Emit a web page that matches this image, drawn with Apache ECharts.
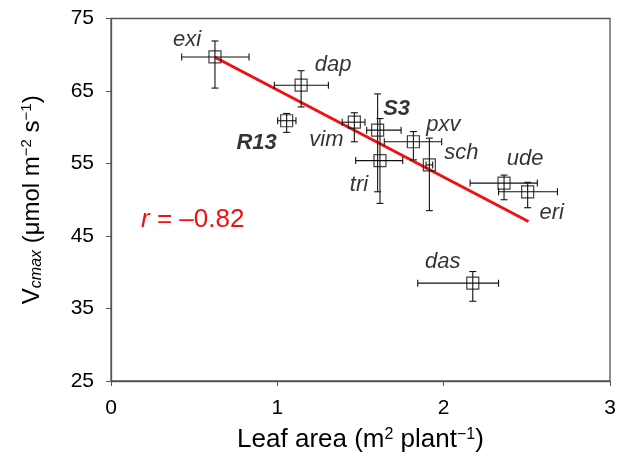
<!DOCTYPE html>
<html>
<head>
<meta charset="utf-8">
<script src="https://cdn.jsdelivr.net/npm/echarts@6/dist/echarts.min.js"></script>
<style>
  html, body { margin: 0; padding: 0; background: #fff; }
  #chart { width: 627px; height: 463px; }
</style>
</head>
<body>
<div id="chart"></div>
<script>
const names = ['exi', 'dap', 'R13', 'vim', 'S3', 'tri', 'pxv', 'sch', 'ude', 'eri', 'das'];
const leafArea = [0.625, 1.143, 1.056, 1.463, 1.603, 1.617, 1.818, 1.914, 2.363, 2.505, 2.175];
const vcmax = [69.7, 65.8, 60.9, 60.7, 59.6, 55.4, 58.0, 54.8, 52.3, 51.1, 38.5];
const leafAreaLow = [0.425, 0.982, 1.002, 1.39, 1.537, 1.471, 1.643, 1.894, 2.159, 2.33, 1.844];
const leafAreaHigh = [0.83, 1.307, 1.112, 1.527, 1.744, 1.754, 1.988, 1.934, 2.563, 2.684, 2.33];
const vcmaxLow = [65.4, 62.8, 59.3, 58.0, 51.1, 49.5, 55.5, 48.5, 50.0, 48.9, 36.0];
const vcmaxHigh = [71.9, 67.8, 61.9, 62.0, 64.6, 61.2, 59.4, 58.5, 53.4, 52.4, 40.1];
const boldNames = ['R13', 'S3'];

// regression line as drawn
const fitRange = [0.625, 2.51];
const fitSlope = -12.02;
const fitIntercept = 77.17;
const rValue = '\u20130.82';

const xTicks = [0, 1, 2, 3];
const yTicks = [25, 35, 45, 55, 65, 75];

// where each species name sits relative to its point (px)
const labelOffsets = {
  exi: [-28, -17], dap: [32, -20], R13: [-30, 22], vim: [-28, 18], S3: [19, -21],
  tri: [-21, 24], pxv: [30, -17], sch: [32, -12], ude: [21, -24], eri: [24, 21], das: [-30, -21]
};

const FONT = 'Liberation Sans, Arial, sans-serif';

const chart = echarts.init(document.getElementById('chart'));

const errData = names.map((n, i) => [leafArea[i], vcmax[i], leafAreaLow[i], leafAreaHigh[i], vcmaxLow[i], vcmaxHigh[i]]);

const pointData = names.map((n, i) => ({
  name: n,
  value: [leafArea[i], vcmax[i]],
  label: {
    show: true,
    formatter: n,
    position: 'inside',
    offset: labelOffsets[n],
    fontStyle: 'italic',
    fontWeight: boldNames.includes(n) ? 'bold' : 'normal',
    fontSize: 22,
    fontFamily: FONT,
    color: '#000'
  }
}));

const fitData = fitRange.map((x) => [x, fitIntercept + fitSlope * x]);

function renderErr(params, api) {
  const c = api.coord([api.value(0), api.value(1)]);
  const xl = api.coord([api.value(2), api.value(1)]);
  const xh = api.coord([api.value(3), api.value(1)]);
  const yl = api.coord([api.value(0), api.value(4)]);
  const yh = api.coord([api.value(0), api.value(5)]);
  const cap = 3.5;
  const style = { stroke: '#111', lineWidth: 1.1 };
  const line = (x1, y1, x2, y2) => ({ type: 'line', shape: { x1, y1, x2, y2 }, style });
  return {
    type: 'group',
    children: [
      line(xl[0], c[1], xh[0], c[1]),
      line(xl[0], c[1] - cap, xl[0], c[1] + cap),
      line(xh[0], c[1] - cap, xh[0], c[1] + cap),
      line(c[0], yl[1], c[0], yh[1]),
      line(c[0] - cap, yl[1], c[0] + cap, yl[1]),
      line(c[0] - cap, yh[1], c[0] + cap, yh[1])
    ]
  };
}

const option = {
  animation: false,
  backgroundColor: '#fff',
  grid: {
    left: 111,
    right: 17,
    top: 18.5,
    bottom: 82,
    show: true,
    borderColor: '#555',
    borderWidth: 1.3
  },
  xAxis: {
    type: 'value',
    min: xTicks[0],
    max: xTicks[xTicks.length - 1],
    interval: 1,
    name: 'Leaf area (m{sup|2} plant{sup|\u22121})',
    nameLocation: 'middle',
    nameGap: 46,
    nameTextStyle: {
      fontSize: 26,
      fontFamily: FONT,
      color: '#000',
      rich: {
        sup: { fontSize: 16, fontFamily: FONT, color: '#000', verticalAlign: 'top', lineHeight: 26 }
      }
    },
    axisLine: { show: true, lineStyle: { color: '#555', width: 1.3 } },
    axisTick: { show: true, inside: false, length: 5, lineStyle: { color: '#555' } },
    axisLabel: { fontSize: 21, fontFamily: FONT, color: '#000', margin: 17 },
    splitLine: { show: false }
  },
  yAxis: {
    type: 'value',
    min: yTicks[0],
    max: yTicks[yTicks.length - 1],
    interval: 10,
    name: 'V{sub|cmax} (\u03bcmol m{sup|\u22122} s{sup|\u22121})',
    nameLocation: 'middle',
    nameRotate: 90,
    nameGap: 66,
    nameTextStyle: {
      fontSize: 24,
      fontFamily: FONT,
      color: '#000',
      rich: {
        sub: { fontSize: 16, fontStyle: 'italic', fontFamily: FONT, color: '#000', verticalAlign: 'bottom', lineHeight: 26 },
        sup: { fontSize: 15, fontFamily: FONT, color: '#000', verticalAlign: 'top', lineHeight: 26 }
      }
    },
    axisLine: { show: true, lineStyle: { color: '#555', width: 1.3 } },
    axisTick: { show: true, inside: false, length: 5, lineStyle: { color: '#555' } },
    axisLabel: { fontSize: 21, fontFamily: FONT, color: '#000', margin: 17 },
    splitLine: { show: false }
  },
  series: [
    {
      type: 'line',
      data: fitData,
      symbol: 'none',
      lineStyle: { color: '#f01010', width: 3 },
      z: 3
    },
    {
      type: 'custom',
      data: errData,
      renderItem: renderErr,
      encode: { x: [0, 2, 3], y: [1, 4, 5] },
      z: 4
    },
    {
      type: 'scatter',
      data: pointData,
      symbol: 'rect',
      symbolSize: 12,
      itemStyle: { color: 'rgba(0,0,0,0)', borderColor: '#111', borderWidth: 1.2 },
      z: 5
    }
  ],
  graphic: [
    {
      type: 'text',
      left: 141,
      top: 207,
      style: {
        text: '{i|r} = ' + rValue,
        font: '26px ' + FONT,
        fill: '#f01010',
        rich: {
          i: { fontStyle: 'italic', fontSize: 26, fontFamily: FONT, fill: '#f01010' }
        }
      }
    }
  ]
};

chart.setOption(option);
</script>
</body>
</html>
